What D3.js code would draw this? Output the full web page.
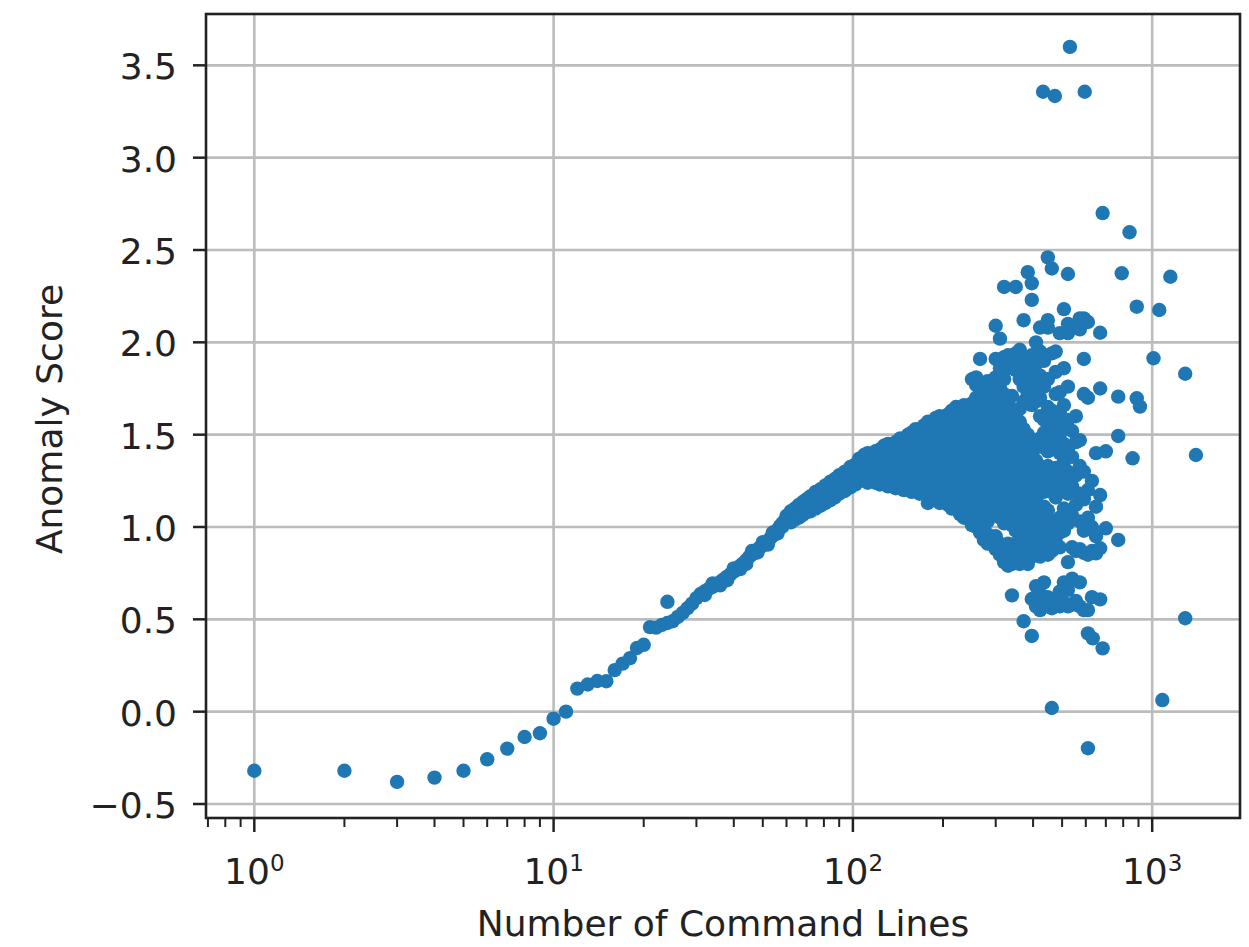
<!DOCTYPE html>
<html><head><meta charset="utf-8">
<script src="https://cdn.jsdelivr.net/npm/d3@7"></script>
<style>body{margin:0;background:#fff}svg{display:block}</style>
</head><body><svg id="chart" width="1249" height="947"></svg>
<script>
// ---- data: [number of command lines, anomaly score] ----
const risePoints = [
[1,-0.32],[2,-0.32],[3,-0.38],[4,-0.357],[5,-0.32],[6,-0.258],[7,-0.20],[8,-0.137],[9,-0.117],[10,-0.038],
[11,0.0],[12,0.125],[13,0.147],[14,0.166],[15,0.165],[16,0.225],[17,0.26],[18,0.29],[19,0.345],[20,0.362],
[21,0.458],[22,0.455],[23,0.47],[24,0.48],[24,0.595],[25,0.49],[26,0.513],[27,0.535],[28,0.56],[29,0.585],
[30,0.615],[31,0.638],[32,0.652],[33,0.665],[34,0.676],[35,0.688],[36,0.702],[37,0.716],[38,0.731],[39,0.745],
[40,0.758],[41,0.775],[42,0.79],[43,0.803],[44,0.82],[45,0.838],[46,0.851],[47,0.866],[48,0.879],[49,0.89],
[50,0.9],[51,0.912],[52,0.925],[53,0.94],[54,0.953],[55,0.966],[56,0.985],[57,1.003],[58,1.018],[59,1.03],[60,1.04],
[32,0.632],[34,0.695],[36,0.684],[38,0.712],[40,0.776],[42,0.772],[44,0.80],[46,0.87],[48,0.862],[50,0.918],
[52,0.905],[54,0.97],[56,0.965],[58,1.0],[60,1.06],
[62,1.025],[62,1.055],[62,1.085],[64,1.04],[64,1.07],[64,1.10],[66,1.05],[66,1.085],[66,1.12],
[68,1.065],[68,1.10],[68,1.135],[70,1.08],[70,1.115],[70,1.15],[72,1.085],[72,1.125],[72,1.165],
[75,1.10],[75,1.145],[75,1.19],[78,1.115],[78,1.16],[78,1.205],[81,1.13],[81,1.18],[81,1.225],
[84,1.145],[84,1.195],[84,1.245],[87,1.16],[87,1.21],[87,1.26],[90,1.18],[90,1.23],[90,1.28],
[94,1.195],[94,1.25],[94,1.30],[98,1.215],[98,1.27],[98,1.325],[102,1.23],[102,1.285],[102,1.34]
];
const clusterColumns = [
[105,[1.25,1.31,1.37]],
[109,[1.28,1.34,1.39]],
[112,[1.24,1.30,1.36,1.40]],
[116,[1.27,1.33,1.39]],
[119,[1.24,1.30,1.36,1.41]],
[123,[1.23,1.29,1.35,1.42]],
[127,[1.26,1.32,1.38,1.44]],
[131,[1.22,1.28,1.35,1.41,1.45]],
[135,[1.25,1.31,1.38,1.44]],
[139,[1.21,1.28,1.34,1.41,1.46]],
[144,[1.24,1.31,1.37,1.43,1.48]],
[148,[1.20,1.27,1.34,1.40,1.47]],
[153,[1.23,1.30,1.37,1.43,1.50]],
[157,[1.19,1.26,1.33,1.40,1.46,1.51]],
[162,[1.22,1.29,1.36,1.43,1.50,1.53]],
[167,[1.18,1.25,1.32,1.39,1.46,1.53]],
[173,[1.21,1.28,1.35,1.42,1.49,1.55]],
[178,[1.13,1.17,1.24,1.31,1.38,1.45,1.52,1.57]],
[184,[1.15,1.21,1.28,1.35,1.42,1.49,1.56]],
[189,[1.17,1.24,1.31,1.38,1.45,1.52,1.59]],
[195,[1.13,1.20,1.27,1.34,1.41,1.48,1.55,1.60]],
[201,[1.16,1.23,1.30,1.37,1.44,1.51,1.58]],
[208,[1.12,1.19,1.26,1.33,1.40,1.47,1.54,1.61]],
[214,[1.10,1.15,1.22,1.29,1.36,1.43,1.50,1.57,1.63]],
[221,[1.12,1.19,1.26,1.33,1.40,1.47,1.54,1.61,1.65]],
[228,[1.07,1.15,1.22,1.29,1.36,1.43,1.50,1.57,1.64]],
[235,[1.05,1.11,1.18,1.25,1.32,1.39,1.46,1.53,1.60,1.66]],
[242,[1.08,1.15,1.22,1.29,1.36,1.43,1.50,1.57,1.64]],
[250,[1.01,1.04,1.11,1.18,1.25,1.32,1.39,1.46,1.53,1.60,1.67,1.80]],
[258,[1.00,1.07,1.14,1.21,1.28,1.35,1.42,1.49,1.56,1.63,1.70,1.77,1.81]],
[266,[0.97,1.03,1.10,1.17,1.24,1.31,1.38,1.45,1.52,1.59,1.66,1.73,1.91]],
[274,[0.93,1.00,1.07,1.14,1.21,1.28,1.35,1.42,1.49,1.56,1.63,1.70,1.76]],
[282,[0.91,0.96,1.03,1.10,1.17,1.24,1.31,1.38,1.45,1.52,1.59,1.66,1.73,1.79]],
[291,[0.92,1.13,1.20,1.27,1.34,1.41,1.48,1.55,1.62,1.69,1.76]],
[300,[0.88,0.95,1.09,1.16,1.23,1.30,1.37,1.44,1.51,1.58,1.65,1.72,1.81,1.91,2.09]],
[310,[0.85,0.91,1.05,1.12,1.19,1.26,1.33,1.40,1.47,1.54,1.61,1.68,1.75,1.86,2.02]],
[320,[0.81,0.88,1.02,1.09,1.16,1.23,1.30,1.37,1.44,1.51,1.58,1.65,1.72,1.80,1.92,2.30]],
[330,[0.79,0.84,0.91,1.05,1.12,1.19,1.26,1.33,1.40,1.47,1.54,1.61,1.68,1.86,1.93]],
[340,[0.63,0.80,0.87,1.01,1.08,1.15,1.22,1.29,1.36,1.43,1.50,1.57,1.64,1.71,1.90]],
[350,[0.84,0.91,0.98,1.05,1.12,1.19,1.26,1.33,1.40,1.47,1.54,1.61,1.85,1.94,2.30]],
[361,[0.80,0.87,0.94,1.01,1.08,1.15,1.22,1.29,1.36,1.43,1.50,1.57,1.64,1.80,1.88,1.96]],
[372,[0.49,0.83,0.90,0.97,1.04,1.11,1.18,1.25,1.32,1.39,1.46,1.53,1.68,1.76,1.84,1.92,2.12]],
[384,[0.80,0.87,0.94,1.01,1.08,1.15,1.22,1.29,1.36,1.43,1.50,1.72,1.80,1.88,2.38]],
[396,[0.41,0.61,0.84,0.91,0.98,1.05,1.12,1.19,1.26,1.33,1.40,1.46,1.66,1.75,1.85,1.93,2.23,2.32]],
[409,[0.57,0.68,0.87,0.94,1.01,1.08,1.15,1.22,1.29,1.36,1.43,1.68,1.78,1.88,2.00]],
[422,[0.55,0.64,0.84,0.91,0.98,1.05,1.19,1.26,1.33,1.48,1.60,1.70,1.82,1.95,2.08]],
[435,[0.58,0.70,0.87,0.95,1.11,1.19,1.27,1.43,1.51,1.58,1.76,1.90]],
[448,[0.62,0.85,0.93,1.01,1.09,1.25,1.33,1.41,1.56,1.65,1.80,2.08,2.12,2.46]],
[462,[0.02,0.56,0.87,0.95,1.03,1.19,1.27,1.45,1.55,1.63,1.94,2.40]],
[476,[0.60,0.92,1.00,1.16,1.24,1.32,1.50,1.60,1.72,1.84,1.95]],
[491,[0.57,0.65,0.89,0.97,1.05,1.22,1.30,1.40,1.50,1.62,1.73,2.05]],
[507,[0.59,0.70,0.98,1.10,1.25,1.35,1.45,1.55,1.66,1.86,2.18]],
[523,[0.57,0.66,0.81,1.02,1.18,1.30,1.42,1.58,1.76,2.05,2.10,2.37]],
[540,[0.58,0.72,0.89,1.06,1.22,1.38,1.52,2.08]],
[556,[0.60,0.87,1.12,1.28,1.46,1.60,2.09]],
[573,[0.57,0.70,0.88,1.03,1.18,1.33,1.47,2.07,2.13]],
[591,[0.55,0.86,0.98,1.15,1.30,1.72,1.91,2.13]],
[610,[0.55,0.85,1.05,1.20,1.70,2.11]]
];
const tailPoints = [
[610,-0.198],[610,0.424],[633,0.397],[683,0.343],[629,0.62],[629,0.87],[629,1.0],[629,1.25],
[649,0.857],[649,0.95],[649,1.11],[649,1.40],[670,0.608],[670,0.885],[670,1.173],[670,1.75],[670,2.052],
[700,0.993],[700,1.41],[770,0.93],[770,1.493],[770,1.706],[860,1.372],[888,1.697],[910,1.652],
[888,2.193],[791,2.374],[840,2.596],[683,2.70],[1150,2.355],[1056,2.175],[1010,1.914],[1289,1.83],
[1400,1.39],[1289,0.506],[1081,0.063],[531,3.60],[432,3.357],[473,3.334],[595,3.357]
];
const yTicks = [-0.5, 0.0, 0.5, 1.0, 1.5, 2.0, 2.5, 3.0, 3.5];
const xTickExponents = [0, 1, 2, 3];
const xLabel = "Number of Command Lines";
const yLabel = "Anomaly Score";

// ---- layout ----
const plot = {left: 206, right: 1240, top: 14, bottom: 818};
const x = d3.scaleLog().domain([0.6896, 1965]).range([plot.left, plot.right]);
const y = d3.scaleLinear().domain([-0.5758, 3.778]).range([plot.bottom, plot.top]);
const FONT = "'DejaVu Sans', sans-serif";
const svg = d3.select("#chart");
svg.append("rect").attr("width",1249).attr("height",947).attr("fill","#fff");

const points = [...risePoints];
clusterColumns.forEach(([n, ys]) => ys.forEach(v => points.push([n, v])));
tailPoints.forEach(p => points.push(p));

// grid
const grid = svg.append("g").attr("stroke","#bcbcbc").attr("stroke-width",2.6);
xTickExponents.forEach(k => {
  const px = x(Math.pow(10,k));
  grid.append("line").attr("x1",px).attr("x2",px).attr("y1",plot.top).attr("y2",plot.bottom);
});
yTicks.forEach(v => {
  const py = y(v);
  grid.append("line").attr("x1",plot.left).attr("x2",plot.right).attr("y1",py).attr("y2",py);
});

// points
svg.append("g").selectAll("circle").data(points).join("circle")
  .attr("cx", d => x(d[0])).attr("cy", d => y(d[1])).attr("r", 7.2).attr("fill", "#1f77b4");

// ticks
const ticks = svg.append("g").attr("stroke","#222").attr("stroke-width",2.5);
yTicks.forEach(v => {
  ticks.append("line").attr("x1",plot.left-13).attr("x2",plot.left).attr("y1",y(v)).attr("y2",y(v));
});
xTickExponents.forEach(k => {
  const px = x(Math.pow(10,k));
  ticks.append("line").attr("x1",px).attr("x2",px).attr("y1",plot.bottom).attr("y2",plot.bottom+14);
});
const [d0, d1] = x.domain();
for (let k = -1; k <= 3; k++) {
  for (let m = 2; m <= 9; m++) {
    const v = m * Math.pow(10, k);
    if (v > d0 && v < d1) {
      ticks.append("line").attr("x1",x(v)).attr("x2",x(v)).attr("y1",plot.bottom).attr("y2",plot.bottom+9)
        .attr("stroke-width",2);
    }
  }
}

// spines
svg.append("rect").attr("x",plot.left).attr("y",plot.top)
  .attr("width",plot.right-plot.left).attr("height",plot.bottom-plot.top)
  .attr("fill","none").attr("stroke","#222").attr("stroke-width",2.6);

// tick labels
const fmt = v => (v < 0 ? "\u2212" : "") + Math.abs(v).toFixed(1);
svg.append("g").selectAll("text").data(yTicks).join("text")
  .attr("x", 177).attr("y", d => y(d) + 14)
  .attr("text-anchor","end").attr("font-family",FONT).attr("font-size",36).attr("fill","#222")
  .text(fmt);
xTickExponents.forEach(k => {
  const t = svg.append("text").attr("x", x(Math.pow(10,k))).attr("y", 884)
    .attr("text-anchor","middle").attr("font-family",FONT).attr("font-size",36).attr("fill","#222");
  t.append("tspan").text("10");
  t.append("tspan").attr("dy",-13).attr("font-size",23).text(String(k));
});

// axis labels
svg.append("text").attr("x",(plot.left+plot.right)/2).attr("y",936)
  .attr("text-anchor","middle").attr("font-family",FONT).attr("font-size",36).attr("fill","#222")
  .text(xLabel);
svg.append("text").attr("transform","translate(62,419) rotate(-90)")
  .attr("text-anchor","middle").attr("font-family",FONT).attr("font-size",36).attr("fill","#222")
  .text(yLabel);
</script></body></html>
